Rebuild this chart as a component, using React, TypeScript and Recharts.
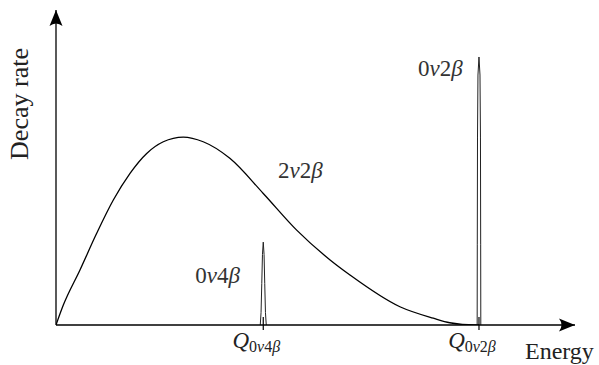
import { LineChart, Line, XAxis, YAxis, ReferenceDot } from "recharts";

// 2ν2β continuous spectrum (energy in units of Q0ν2β, rate normalised to its maximum)
const spectrumEnergy = [0, 0.0173, 0.0567, 0.0962, 0.1355, 0.175, 0.2144, 0.2537, 0.301, 0.348, 0.411, 0.49, 0.569, 0.648, 0.695, 0.813, 0.892, 0.931, 0.99, 1.0];
const spectrumRate = [0, 0.106, 0.293, 0.488, 0.665, 0.807, 0.913, 0.975, 1.0, 0.975, 0.887, 0.7, 0.505, 0.346, 0.266, 0.097, 0.036, 0.012, 0, 0];

// 0ν4β line
const peak4Energy = [0.4829, 0.4848, 0.4865, 0.4881, 0.49, 0.4919, 0.4935, 0.4952, 0.4971];
const peak4Rate = [0, 0.066, 0.22, 0.375, 0.441, 0.375, 0.22, 0.066, 0];

// 0ν2β line
const peak2Energy = [0.9957, 0.996, 0.9965, 0.9976, 1.0, 1.0024, 1.0035, 1.004, 1.0043];
const peak2Rate = [0, 0.43, 1.0, 1.33, 1.426, 1.33, 1.0, 0.43, 0];

const tickValues = [0.49, 1.0];
const tickSubs = ["0ν4β", "0ν2β"];

const labelText = ["2ν2β", "0ν2β", "0ν4β"];
const labelEnergy = [0.525, 0.856, 0.329];
const labelRate = [0.782, 1.324, 0.223];

const X_MAX = 1.227;
const Y_MAX = 1.676;
const FONT = "'Liberation Serif', 'DejaVu Serif', serif";

const zip = (xs: number[], ys: number[]) => xs.map((e, i) => ({ e, r: ys[i] }));
const spectrum = zip(spectrumEnergy, spectrumRate);
const peak4 = zip(peak4Energy, peak4Rate);
const peak2 = zip(peak2Energy, peak2Rate);

// digits upright, greek letters italic, like TeX math
function MathText({ s }: { s: string }) {
  return (
    <>
      {s.split("").map((ch, i) =>
        /[0-9]/.test(ch) ? (
          <tspan key={i}>{ch}</tspan>
        ) : (
          <tspan key={i} fontStyle="italic">
            {ch}
          </tspan>
        )
      )}
    </>
  );
}

function QTick({ x, y, payload }: any) {
  const idx = tickValues.indexOf(payload.value);
  return (
    <g>
      <line x1={x} x2={x} y1={y - 8} y2={y + 5} stroke="#000" strokeWidth={1.2} />
      <text x={x - 7} y={y + 23} textAnchor="middle" fontFamily={FONT} fontSize={23} fill="#222">
        <tspan fontStyle="italic">Q</tspan>
        <tspan fontSize={16} dy={4}>
          <MathText s={tickSubs[idx] ?? ""} />
        </tspan>
      </text>
    </g>
  );
}

const arrowRight = ({ cx, cy }: any) => (
  <path d={`M${cx},${cy} L${cx - 16},${cy - 6.5} Q${cx - 11},${cy} ${cx - 16},${cy + 6.5} Z`} fill="#000" />
);
const arrowUp = ({ cx, cy }: any) => (
  <path d={`M${cx},${cy} L${cx - 6.5},${cy + 16} Q${cx},${cy + 11} ${cx + 6.5},${cy + 16} Z`} fill="#000" />
);

export default function App() {
  return (
    <div style={{ position: "absolute", left: 0, top: 0, background: "#fff" }}>
      <LineChart width={599} height={365} margin={{ top: 10, right: 24, bottom: 0, left: 55 }}>
        <XAxis
          type="number"
          dataKey="e"
          domain={[0, X_MAX]}
          allowDataOverflow
          ticks={tickValues}
          tick={<QTick />}
          tickLine={false}
          tickSize={0}
          tickMargin={0}
          height={40}
          axisLine={{ stroke: "#000", strokeWidth: 1.3 }}
          label={{
            content: ({ viewBox }: any) => (
              <text x={viewBox.x + viewBox.width - 50} y={viewBox.y + 34} fontFamily={FONT} fontSize={24} fill="#222">
                Energy
              </text>
            ),
          }}
        />
        <YAxis
          type="number"
          domain={[0, Y_MAX]}
          allowDataOverflow
          tick={false}
          tickLine={false}
          width={1}
          axisLine={{ stroke: "#000", strokeWidth: 1.3 }}
          label={{
            content: ({ viewBox }: any) => (
              <text
                transform={`translate(${viewBox.x + viewBox.width - 28},${viewBox.y + 94}) rotate(-90)`}
                textAnchor="middle"
                fontFamily={FONT}
                fontSize={26}
                fill="#222"
              >
                Decay rate
              </text>
            ),
          }}
        />
        <Line data={spectrum} dataKey="r" type="monotone" stroke="#000" strokeWidth={1.3} dot={false} isAnimationActive={false} />
        <Line data={peak4} dataKey="r" type="linear" stroke="#222" strokeWidth={1} dot={false} isAnimationActive={false} />
        <Line data={peak2} dataKey="r" type="linear" stroke="#222" strokeWidth={1} dot={false} isAnimationActive={false} />
        {labelText.map((t, i) => (
          <ReferenceDot
            key={t}
            x={labelEnergy[i]}
            y={labelRate[i]}
            ifOverflow="visible"
            shape={({ cx, cy }: any) => (
              <text x={cx} y={cy} fontFamily={FONT} fontSize={23} fill="#333">
                <MathText s={t} />
              </text>
            )}
          />
        ))}
        <ReferenceDot x={X_MAX} y={0} ifOverflow="visible" shape={arrowRight} />
        <ReferenceDot x={0} y={Y_MAX} ifOverflow="visible" shape={arrowUp} />
      </LineChart>
    </div>
  );
}
